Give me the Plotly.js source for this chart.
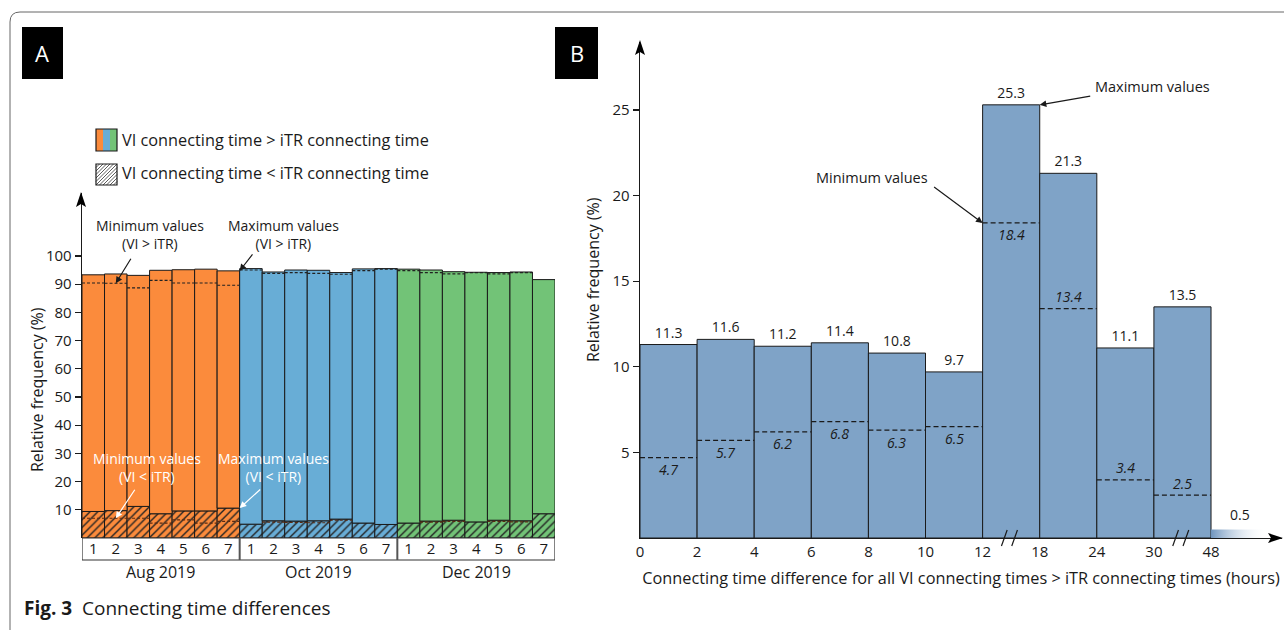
<!DOCTYPE html>
<html><head><meta charset="utf-8">
<script src="https://cdn.plot.ly/plotly-3.0.1.min.js"></script>
<style>html,body{margin:0;padding:0;background:#fff}#chart{width:1284px;height:630px}</style>
</head><body><div id="chart"></div>
<script>
const W = 1284, H = 630;

// ---------- Panel A data ----------
const months = ['Aug 2019', 'Oct 2019', 'Dec 2019'];
const dayLabels = ['1', '2', '3', '4', '5', '6', '7'];
const monthColors = ['#fb8b3c', '#68add6', '#72c377'];
// VI connecting time > iTR connecting time: maximum (bar top) and minimum (dotted line)
const augMax = [93.3, 93.6, 93.1, 94.9, 95.1, 95.3, 94.7];
const augMin = [90.4, 90.3, 88.7, 91.3, 90.4, 90.4, 89.6];
const octMax = [95.5, 94.3, 95.0, 94.9, 94.1, 95.4, 95.5];
const octMin = [95.0, 93.8, 94.1, 93.8, 93.5, 94.8, 95.3];
const decMax = [95.3, 95.0, 94.4, 94.2, 94.1, 94.3, 91.6];
const decMin = [94.8, 94.1, 93.6, 94.1, 93.6, 94.1, null];
// VI connecting time < iTR connecting time (hatched): maximum and minimum
const augLowMax = [9.4, 9.7, 11.2, 8.6, 9.6, 9.6, 10.6];
const augLowMin = [7.0, 7.0, 7.0, 5.3, 6.4, 5.3, 5.9];
const octLowMax = [4.9, 6.1, 6.0, 6.1, 6.7, 5.3, 4.8];
const octLowMin = [null, 5.6, 5.5, 5.4, 6.3, null, null];
const decLowMax = [5.3, 6.0, 6.3, 5.7, 6.3, 6.1, 8.6];
const decLowMin = [null, 5.6, 5.9, null, 5.9, 5.7, null];

// ---------- Panel B data ----------
const binLabels = ['0', '2', '4', '6', '8', '10', '12', '18', '24', '30', '48'];
const maxValues = [11.3, 11.6, 11.2, 11.4, 10.8, 9.7, 25.3, 21.3, 11.1, 13.5];
const minValues = [4.7, 5.7, 6.2, 6.8, 6.3, 6.5, 18.4, 13.4, 3.4, 2.5];
const minLabelAbove = [false, false, false, false, false, false, false, true, true, true];
const tailValue = 0.5;
const breakAfterBins = [6, 9];

const FONT = 'Open Sans, sans-serif';
const INK = '#1a1a1a';
const px = x => x / W;
const py = y => 1 - y / H;

const groupsMax = [augMax, octMax, decMax];
const groupsMin = [augMin, octMin, decMin];
const groupsLowMax = [augLowMax, octLowMax, decLowMax];
const groupsLowMin = [augLowMin, octLowMin, decLowMin];

const traces = [];
const nDays = dayLabels.length;
months.forEach((m, g) => {
  const xs = dayLabels.map((d, i) => g * nDays + i);
  const low = groupsLowMax[g];
  const top = groupsMax[g];
  traces.push({
    type: 'bar', xaxis: 'x', yaxis: 'y', x: xs, y: low, width: 1,
    marker: { color: monthColors[g], line: { color: INK, width: 1 },
      pattern: { shape: '/', bgcolor: monthColors[g], fgcolor: '#222', size: 5.5, solidity: 0.25 } },
    name: m + ' VI < iTR', showlegend: false, hoverinfo: 'skip'
  });
  traces.push({
    type: 'bar', xaxis: 'x', yaxis: 'y', x: xs, base: low, y: top.map((v, i) => v - low[i]), width: 1,
    marker: { color: monthColors[g], line: { color: INK, width: 1 } },
    name: m + ' VI > iTR', showlegend: false, hoverinfo: 'skip'
  });
  // dotted minimum lines
  [groupsMin[g], groupsLowMin[g]].forEach((arr, k) => {
    const lx = [], ly = [];
    arr.forEach((v, i) => {
      if (v === null) return;
      lx.push(xs[i] - 0.5, xs[i] + 0.5, null);
      ly.push(v, v, null);
    });
    traces.push({
      type: 'scatter', mode: 'lines', xaxis: 'x', yaxis: 'y', x: lx, y: ly,
      line: { color: k === 0 ? '#222' : '#5a2a10', width: 1.2, dash: '3px,2px' },
      showlegend: false, hoverinfo: 'skip'
    });
  });
});

// Panel B bars
const binCenters = maxValues.map((v, i) => i + 0.5);
traces.push({
  type: 'bar', xaxis: 'x2', yaxis: 'y2', x: binCenters, y: maxValues, width: 1,
  marker: { color: '#7fa3c7', line: { color: INK, width: 1 } },
  text: maxValues.map(v => v.toFixed(1)), textposition: 'outside',
  textfont: { family: FONT, size: 14, color: INK }, cliponaxis: false,
  showlegend: false, hoverinfo: 'skip'
});
{
  const lx = [], ly = [];
  minValues.forEach((v, i) => { lx.push(i, i + 1, null); ly.push(v, v, null); });
  traces.push({
    type: 'scatter', mode: 'lines', xaxis: 'x2', yaxis: 'y2', x: lx, y: ly,
    line: { color: INK, width: 1.2, dash: '5px,3px' }, showlegend: false, hoverinfo: 'skip'
  });
}
// tail bin (48+) with fading fill
{
  const i0 = maxValues.length;
  traces.push({
    type: 'scatter', mode: 'lines', xaxis: 'x2', yaxis: 'y2',
    x: [i0, i0 + 1, i0 + 1, i0, i0], y: [0, 0, tailValue, tailValue, 0],
    fill: 'toself', line: { width: 0 },
    fillgradient: { type: 'horizontal', colorscale: [[0, '#6f95be'], [1, 'rgba(255,255,255,0)']] },
    showlegend: false, hoverinfo: 'skip'
  });
}

// ---------- Layout ----------
const domAx = [px(82), px(555)];
const domAy = [py(538), py(193)];
const domBx = [px(640), px(1282)];
const domBy = [py(538), py(42)];

const shapes = [];
const annotations = [];

// Frame
shapes.push({ type: 'path', xref: 'paper', yref: 'paper',
  path: `M ${px(10)} ${py(630)} L ${px(10)} ${py(22)} Q ${px(10)} ${py(12)} ${px(20)} ${py(12)} L ${px(1284)} ${py(12)}`,
  line: { color: '#666', width: 1 } });

// Panel labels
[['A', 22, 63], ['B', 555, 598]].forEach(([t, x0, x1]) => {
  shapes.push({ type: 'rect', xref: 'paper', yref: 'paper', x0: px(x0), x1: px(x1), y0: py(79), y1: py(27),
    fillcolor: '#000', line: { width: 0 } });
  annotations.push({ xref: 'paper', yref: 'paper', x: px((x0 + x1) / 2), y: py(53), text: t, showarrow: false,
    font: { family: FONT, size: 22, color: '#fff' }, xanchor: 'center', yanchor: 'middle' });
});

// Arrowheads on axes
function arrowUp(x, yTip) {
  return { type: 'path', xref: 'paper', yref: 'paper', fillcolor: '#000', line: { width: 0 },
    path: `M ${px(x)} ${py(yTip)} L ${px(x - 5)} ${py(yTip + 15)} L ${px(x)} ${py(yTip + 12)} L ${px(x + 5)} ${py(yTip + 15)} Z` };
}
shapes.push(arrowUp(81, 192));
shapes.push(arrowUp(640, 40));
shapes.push({ type: 'path', xref: 'paper', yref: 'paper', fillcolor: '#000', line: { width: 0 },
  path: `M ${px(1283)} ${py(538)} L ${px(1268)} ${py(533)} L ${px(1271)} ${py(538)} L ${px(1268)} ${py(543)} Z` });

// Axis titles (placed as rotated annotations)
[[37, 390], [593, 280]].forEach(([x, y]) => {
  annotations.push({ xref: 'paper', yref: 'paper', x: px(x), y: py(y), text: 'Relative frequency (%)', textangle: -90,
    showarrow: false, xanchor: 'center', yanchor: 'middle', font: { family: FONT, size: 16, color: INK } });
});

// Panel A label box
const nBars = months.length * nDays;
shapes.push({ type: 'rect', xref: 'x', yref: 'paper', x0: -0.5, x1: nBars - 0.5, y0: py(560), y1: py(538),
  line: { color: '#333', width: 1.2 }, fillcolor: 'rgba(0,0,0,0)' });
for (let g = 1; g < months.length; g++) {
  shapes.push({ type: 'line', xref: 'x', yref: 'paper', x0: g * nDays - 0.5, x1: g * nDays - 0.5, y0: py(560), y1: py(538),
    line: { color: '#555', width: 2 } });
}
months.forEach((m, g) => {
  annotations.push({ xref: 'x', yref: 'paper', x: g * nDays + (nDays - 1) / 2, y: py(572), text: m, showarrow: false,
    font: { family: FONT, size: 16, color: INK }, xanchor: 'center', yanchor: 'middle' });
});

// Legend (panel A)
const lx0 = 96, lx1 = 117;
monthColors.forEach((c, k) => {
  const w = (lx1 - lx0) / monthColors.length;
  shapes.push({ type: 'rect', xref: 'paper', yref: 'paper', x0: px(lx0 + k * w), x1: px(lx0 + (k + 1) * w),
    y0: py(151), y1: py(129), fillcolor: c, line: { width: 0 } });
});
shapes.push({ type: 'rect', xref: 'paper', yref: 'paper', x0: px(lx0), x1: px(lx1), y0: py(151), y1: py(129),
  line: { color: INK, width: 1.2 } });
{
  const y0 = 164, s = lx1 - lx0;
  let p = '';
  for (let t = -s; t < s; t += 3.5) {
    const u0 = Math.max(0, -t), u1 = Math.min(s, s - t);
    if (u1 <= u0) continue;
    p += `M ${px(lx0 + t + u0)} ${py(y0 + s - u0)} L ${px(lx0 + t + u1)} ${py(y0 + s - u1)} `;
  }
  shapes.push({ type: 'path', xref: 'paper', yref: 'paper', path: p, line: { color: '#333', width: 0.8 } });
  shapes.push({ type: 'rect', xref: 'paper', yref: 'paper', x0: px(lx0), x1: px(lx1), y0: py(y0 + s), y1: py(y0),
    line: { color: INK, width: 1.2 } });
}
annotations.push({ xref: 'paper', yref: 'paper', x: px(120), y: py(140), text: 'VI connecting time &gt; iTR connecting time',
  showarrow: false, xanchor: 'left', yanchor: 'middle', font: { family: FONT, size: 16.3, color: INK } });
annotations.push({ xref: 'paper', yref: 'paper', x: px(120), y: py(173), text: 'VI connecting time &lt; iTR connecting time',
  showarrow: false, xanchor: 'left', yanchor: 'middle', font: { family: FONT, size: 16.3, color: INK } });

// Panel A callouts
function note(x, y, text, color) {
  annotations.push({ xref: 'paper', yref: 'paper', x: px(x), y: py(y), text, showarrow: false,
    xanchor: 'center', yanchor: 'middle', font: { family: FONT, size: 14, color } });
}
function pointer(xref, yref, x, y, ax, ay, color) {
  annotations.push({ xref, yref, x, y, ax, ay, text: '', showarrow: true, arrowhead: 2, arrowsize: 1.1,
    arrowwidth: 1.2, arrowcolor: color, standoff: 0 });
}
note(150, 234, 'Minimum values<br>(VI &gt; iTR)', INK);
note(283, 234, 'Maximum values<br>(VI &gt; iTR)', INK);
note(147, 467, 'Minimum values<br>(VI &lt; iTR)', '#fff');
note(273, 467, 'Maximum values<br>(VI &lt; iTR)', '#fff');
pointer('x', 'y', 1, augMin[1], 16, -26, INK);
pointer('x', 'y', 6.5, augMax[6], 14, -18, INK);
pointer('x', 'y', 1, augLowMin[1], 20, -30, '#fff');
pointer('x', 'y', 6.5, augLowMax[6], 22, -20, '#fff');

// Panel B callouts
annotations.push({ xref: 'paper', yref: 'paper', x: px(1152), y: py(87), text: 'Maximum values', showarrow: false,
  xanchor: 'center', yanchor: 'middle', font: { family: FONT, size: 14.5, color: INK } });
annotations.push({ xref: 'paper', yref: 'paper', x: px(872), y: py(177), text: 'Minimum values', showarrow: false,
  xanchor: 'center', yanchor: 'middle', font: { family: FONT, size: 14.5, color: INK } });
pointer('x2', 'y2', 7, maxValues[6], 52, -9, INK);
pointer('x2', 'y2', 6, minValues[6], -50, -37, INK);

// Min value labels
minValues.forEach((v, i) => {
  annotations.push({ xref: 'x2', yref: 'y2', x: i + 0.5, y: v, text: '<i>' + v.toFixed(1) + '</i>', showarrow: false,
    xanchor: 'center', yanchor: 'middle', yshift: minLabelAbove[i] ? 12 : -12,
    font: { family: FONT, size: 14, color: INK } });
});
annotations.push({ xref: 'x2', yref: 'y2', x: maxValues.length + 0.5, y: tailValue, text: tailValue.toFixed(1),
  showarrow: false, xanchor: 'center', yanchor: 'bottom', yshift: 3, font: { family: FONT, size: 14, color: INK } });

// Axis break marks
breakAfterBins.forEach(b => {
  [-0.12, 0.06].forEach(o => {
    shapes.push({ type: 'line', xref: 'x2', yref: 'paper', x0: b + 0.5 + o - 0.05, x1: b + 0.5 + o + 0.05,
      y0: py(546), y1: py(530), line: { color: INK, width: 1.2 } });
  });
});

// Caption
annotations.push({ xref: 'paper', yref: 'paper', x: px(22), y: py(608), text: '<b>Fig. 3</b>\u00a0\u00a0Connecting time differences',
  showarrow: false, xanchor: 'left', yanchor: 'middle', font: { family: FONT, size: 19, color: INK } });

const layout = {
  width: W, height: H, margin: { l: 0, r: 0, t: 0, b: 0 },
  paper_bgcolor: '#fff', plot_bgcolor: 'rgba(0,0,0,0)',
  barmode: 'overlay', bargap: 0, showlegend: false,
  font: { family: FONT, size: 14, color: INK },
  xaxis: { domain: domAx, range: [-0.5, nBars - 0.5], anchor: 'y',
    tickvals: Array.from({ length: nBars }, (_, i) => i),
    ticktext: months.flatMap(() => dayLabels), ticks: '', showgrid: false, zeroline: false, showline: false,
    tickfont: { family: FONT, size: 15, color: INK }, fixedrange: true },
  yaxis: { domain: domAy, range: [0, 122.3], anchor: 'x',
    tickvals: [10, 20, 30, 40, 50, 60, 70, 80, 90, 100], ticks: 'outside', ticklen: 6, tickwidth: 1.2, tickcolor: INK,
    showline: true, linecolor: INK, linewidth: 1.3, showgrid: false, zeroline: false,
    tickfont: { family: FONT, size: 15, color: INK } },
  xaxis2: { domain: domBx, range: [0, 11.243], anchor: 'y2',
    tickvals: binLabels.map((_, i) => i), ticktext: binLabels, ticks: '', showgrid: false, zeroline: false,
    showline: true, linecolor: INK, linewidth: 1.3, tickfont: { family: FONT, size: 15, color: INK },
    title: { text: 'Connecting time difference for all VI connecting times &gt; iTR connecting times (hours)',
      font: { family: FONT, size: 16.3, color: INK }, standoff: 12 } },
  yaxis2: { domain: domBy, range: [0, 28.97], anchor: 'x2',
    tickvals: [5, 10, 15, 20, 25], ticks: 'outside', ticklen: 6, tickwidth: 1.2, tickcolor: INK,
    showline: true, linecolor: INK, linewidth: 1.3, showgrid: false, zeroline: false,
    tickfont: { family: FONT, size: 15, color: INK } },
  shapes, annotations
};

Plotly.newPlot('chart', traces, layout, { staticPlot: true, displayModeBar: false });
</script>
</body></html>
